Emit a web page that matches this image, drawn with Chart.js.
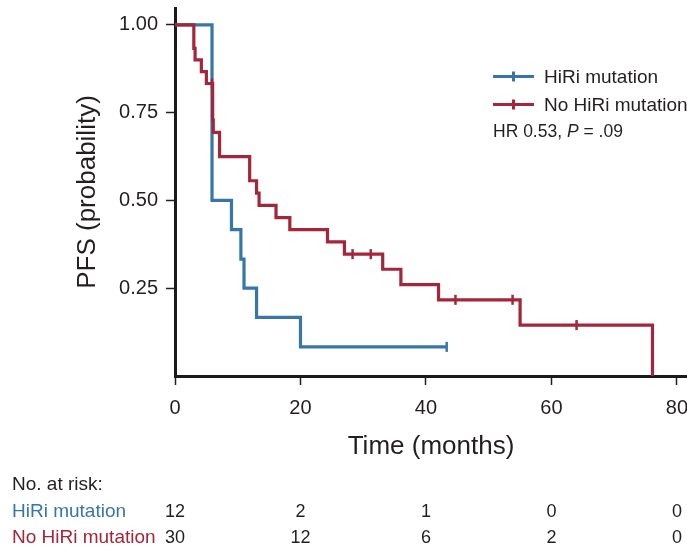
<!DOCTYPE html>
<html>
<head>
<meta charset="utf-8">
<title>PFS by HiRi mutation</title>
<script src="https://cdn.jsdelivr.net/npm/chart.js@4.4.1/dist/chart.umd.min.js"></script>
<style>
  html, body { margin: 0; padding: 0; background: #fff; }
  #wrap { width: 687px; height: 549px; position: relative; }
</style>
</head>
<body>
<div id="wrap"><canvas id="kmChart" width="687" height="549"></canvas></div>
<script>
// Kaplan-Meier steps (months, probability)
const hiriTime = [0, 5.9, 9.0, 10.5, 11.0, 13.0, 20.0, 43.3];
const hiriSurv = [1, 0.5, 0.417, 0.333, 0.25, 0.167, 0.083, 0.083];
const hiriCensorTime = [43.3];
const hiriCensorSurv = [0.083];

const noHiriTime = [0, 3.0, 3.2, 4.2, 5.0, 6.0, 6.1, 7.1, 11.9, 13.0, 13.4, 16.1, 18.3, 24.3, 27.0, 33.1, 36.0, 42.0, 55.0, 76.1];
const noHiriSurv = [1, 0.933, 0.9, 0.867, 0.833, 0.729, 0.694, 0.625, 0.556, 0.521, 0.486, 0.451, 0.417, 0.382, 0.347, 0.304, 0.26, 0.217, 0.145, 0];
const noHiriCensorTime = [5.9, 28.3, 31.2, 44.7, 53.8, 64.0];
const noHiriCensorSurv = [0.833, 0.347, 0.347, 0.217, 0.217, 0.145];

const xTicks = [0, 20, 40, 60, 80];
const yTicks = [0.25, 0.5, 0.75, 1.0];

// number at risk table
const riskTimes = [0, 20, 40, 60, 80];
const hiriRisk = [12, 2, 1, 0, 0];
const noHiriRisk = [30, 12, 6, 2, 0];

const BLUE = "#3876a8";
const RED = "#a3263a";
const INK = "#231f20";
const FONT = "'Liberation Sans', Arial, sans-serif";

const toXY = (xs, ys) => xs.map((x, i) => ({ x: x, y: ys[i] }));

// legend, HR note and risk table
const annotations = {
  id: "annotations",
  afterDraw(chart) {
    const ctx = chart.ctx;
    const xs = chart.scales.x;
    ctx.save();
    ctx.textBaseline = "middle";

    // legend
    const legendRows = [
      { label: "HiRi mutation", color: BLUE, y: 76.5 },
      { label: "No HiRi mutation", color: RED, y: 104.5 },
    ];
    legendRows.forEach((r) => {
      ctx.strokeStyle = r.color;
      ctx.lineWidth = 3;
      ctx.beginPath();
      ctx.moveTo(493, r.y);
      ctx.lineTo(534, r.y);
      ctx.moveTo(513.5, r.y - 5);
      ctx.lineTo(513.5, r.y + 5);
      ctx.stroke();
      ctx.fillStyle = INK;
      ctx.font = "19px " + FONT;
      ctx.textAlign = "left";
      ctx.fillText(r.label, 544, r.y + 1);
    });

    ctx.fillStyle = INK;
    let tx = 493;
    const hrParts = [["HR 0.53, ", ""], ["P", "italic "], [" = .09", ""]];
    hrParts.forEach(([t, style]) => {
      ctx.font = style + "17.5px " + FONT;
      ctx.fillText(t, tx, 132);
      tx += ctx.measureText(t).width;
    });

    // number at risk
    ctx.font = "19px " + FONT;
    ctx.fillStyle = INK;
    ctx.fillText("No. at risk:", 12, 485);
    ctx.fillStyle = BLUE;
    ctx.fillText("HiRi mutation", 12, 512);
    ctx.fillStyle = RED;
    ctx.fillText("No HiRi mutation", 12, 538);

    ctx.font = "18px " + FONT;
    ctx.fillStyle = INK;
    ctx.textAlign = "center";
    riskTimes.forEach((t, i) => {
      const px = Math.min(xs.getPixelForValue(t), 680);
      ctx.fillText(String(hiriRisk[i]), px, 512);
      ctx.fillText(String(noHiriRisk[i]), px, 538);
    });
    ctx.restore();
  },
};

const ctx = document.getElementById("kmChart").getContext("2d");

new Chart(ctx, {
  type: "line",
  data: {
    datasets: [
      {
        label: "HiRi mutation",
        data: toXY(hiriTime, hiriSurv),
        borderColor: BLUE,
        borderWidth: 3.2,
        stepped: "before",
        pointRadius: 0,
        fill: false,
        order: 3,
      },
      {
        label: "No HiRi mutation",
        data: toXY(noHiriTime, noHiriSurv),
        borderColor: RED,
        borderWidth: 3.2,
        stepped: "before",
        pointRadius: 0,
        fill: false,
        order: 2,
      },
      {
        label: "HiRi censored",
        data: toXY(hiriCensorTime, hiriCensorSurv),
        showLine: false,
        pointStyle: "line",
        rotation: 90,
        pointRadius: 5,
        pointBorderWidth: 2.5,
        pointBorderColor: BLUE,
        borderColor: BLUE,
        order: 1,
      },
      {
        label: "No HiRi censored",
        data: toXY(noHiriCensorTime, noHiriCensorSurv),
        showLine: false,
        pointStyle: "line",
        rotation: 90,
        pointRadius: 5,
        pointBorderWidth: 2.5,
        pointBorderColor: RED,
        borderColor: RED,
        order: 0,
      },
    ],
  },
  options: {
    responsive: false,
    animation: false,
    devicePixelRatio: 1,
    layout: { autoPadding: false, padding: { top: 8, right: 0, left: 0, bottom: 0 } },
    plugins: {
      legend: { display: false },
      tooltip: { enabled: false },
    },
    scales: {
      x: {
        type: "linear",
        min: 0,
        max: 81.6,
        afterBuildTicks: (s) => { s.ticks = xTicks.map((v) => ({ value: v })); },
        afterFit: (s) => {
          s.height = 173;
          s.paddingLeft = 0;
          s.paddingRight = 0;
        },
        ticks: {
          color: INK,
          font: { family: FONT, size: 20 },
          padding: 11,
        },
        grid: {
          drawOnChartArea: false,
          drawTicks: true,
          tickLength: 9,
          tickWidth: 1.5,
          tickColor: INK,
        },
        border: { display: true, color: "#1a1a1a", width: 3 },
        title: {
          display: true,
          text: "Time (months)",
          color: INK,
          font: { family: FONT, size: 26 },
          padding: { top: 0, bottom: 87 },
        },
      },
      y: {
        type: "linear",
        min: 0,
        max: 1.048,
        afterBuildTicks: (s) => { s.ticks = yTicks.map((v) => ({ value: v })); },
        afterFit: (s) => {
          s.width = 175;
          s.paddingTop = 0;
          s.paddingBottom = 0;
        },
        ticks: {
          color: INK,
          font: { family: FONT, size: 20 },
          padding: 8,
          callback: (v) => v.toFixed(2),
        },
        grid: {
          drawOnChartArea: false,
          drawTicks: true,
          tickLength: 9,
          tickWidth: 1.5,
          tickColor: INK,
        },
        border: { display: true, color: "#1a1a1a", width: 3 },
        title: {
          display: true,
          text: "PFS (probability)",
          color: INK,
          font: { family: FONT, size: 26 },
          padding: { top: 72, bottom: 0 },
        },
      },
    },
  },
  plugins: [annotations],
});
</script>
</body>
</html>
